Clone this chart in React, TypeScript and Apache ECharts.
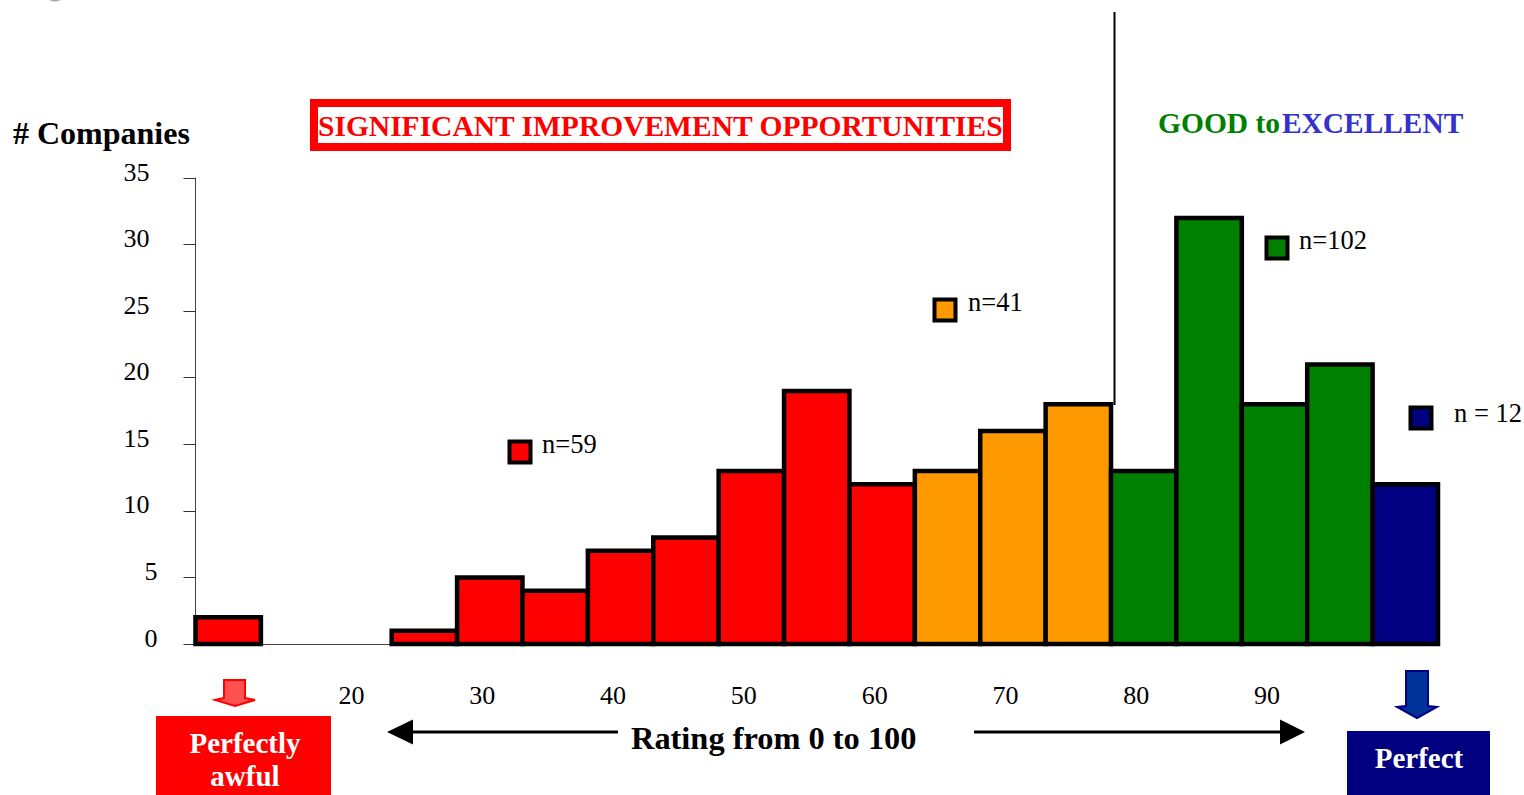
import React, { useEffect, useRef } from "react";
import * as echarts from "echarts";

const binLabels = ["10","15","20","25","30","35","40","45","50","55","60","65","70","75","80","85","90","95","100"];
const companyCounts = [2,0,0,1,5,4,7,8,13,19,12,13,16,18,13,32,18,21,12];
const RED = "#ff0000", ORANGE = "#ff9900", GREEN = "#008000", NAVY = "#000080";
const binColors = [RED,RED,RED,RED,RED,RED,RED,RED,RED,RED,RED,ORANGE,ORANGE,ORANGE,GREEN,GREEN,GREEN,GREEN,NAVY];
const yTicks = { min: 0, max: 35, interval: 5 };
const shownLabels = ["20","30","40","50","60","70","80","90"];
const legendNotes = [
  { label: "n=59", color: RED, x: 508, y: 440, tx: 542, ty: 444 },
  { label: "n=41", color: ORANGE, x: 933, y: 298, tx: 968, ty: 301.5 },
  { label: "n=102", color: GREEN, x: 1265, y: 236, tx: 1299, ty: 240 },
  { label: "n = 12", color: NAVY, x: 1409, y: 406, tx: 1454, ty: 413 },
];

const SERIF = '"Liberation Serif", "Times New Roman", serif';
const txt = (text: string, x: number, y: number, fill: string, size: number, bold = true, align = "left") => ({
  type: "text",
  z: 20,
  style: { text, x, y, fill, font: `${bold ? "bold " : ""}${size}px ${SERIF}`, textAlign: align, textVerticalAlign: "middle" },
});

export default function App() {
  const ref = useRef<HTMLDivElement>(null);
  useEffect(() => {
    document.body.style.margin = "0";
    const chart = echarts.init(ref.current!, null, { renderer: "svg" });
    chart.setOption({
      animation: false,
      backgroundColor: "#ffffff",
      grid: { left: 195.5, right: 86, top: 178, bottom: 151 },
      xAxis: {
        type: "category",
        data: binLabels,
        axisLine: { lineStyle: { color: "#444", width: 1 } },
        axisTick: { interval: 0, length: 10, lineStyle: { color: "#333", width: 1 } },
        axisLabel: {
          interval: (_: number, v: string) => shownLabels.includes(v),
          margin: 38,
          padding: [0, 15, 0, 0],
          color: "#000",
          fontFamily: SERIF,
          fontSize: 26,
        },
      },
      yAxis: {
        type: "value",
        ...yTicks,
        splitLine: { show: false },
        axisLine: { show: true, lineStyle: { color: "#444", width: 1 } },
        axisTick: { show: true, length: 12, lineStyle: { color: "#333", width: 1 } },
        axisLabel: {
          margin: 38,
          color: "#000",
          fontFamily: SERIF,
          fontSize: 26,
          formatter: (v: number) => (v < 10 ? `{a|${v}}` : `{b|${v}}`),
          rich: {
            a: { fontFamily: SERIF, fontSize: 26, color: "#000", padding: [0, 0, 12, 0] },
            b: { fontFamily: SERIF, fontSize: 26, color: "#000", padding: [0, 8, 12, 0] },
          },
        },
      },
      series: [
        {
          type: "custom",
          clip: false,
          z: 3,
          encode: { x: 0, y: 1 },
          data: binLabels.map((label, i) => [label, companyCounts[i]]),
          renderItem: (params: any, api: any) => {
            const v = api.value(1);
            if (!v) return null;
            const i = params.dataIndex;
            const [cx, top] = api.coord([i, v]);
            const [, base] = api.coord([i, 0]);
            const w = api.size([1, 0])[0];
            return {
              type: "rect",
              shape: { x: cx - w / 2, y: top, width: w, height: base - top },
              style: { fill: binColors[i], stroke: "#000", lineWidth: 4.5 },
            };
          },
        },
      ],
      graphic: [
        { type: "ellipse", z: 5, shape: { cx: 55, cy: -1, rx: 6, ry: 2.5 }, style: { fill: "#aaaaaa" } },
        { type: "line", z: 5, shape: { x1: 1114.5, y1: 12, x2: 1114.5, y2: 405 }, style: { stroke: "#000", lineWidth: 2 } },
        txt("# Companies", 13, 133, "#000", 32),
        { type: "rect", z: 10, shape: { x: 314, y: 103, width: 693, height: 44 }, style: { fill: "#fff", stroke: RED, lineWidth: 8 } },
        txt("SIGNIFICANT IMPROVEMENT OPPORTUNITIES", 318, 126, RED, 29.5),
        txt("GOOD to", 1158, 122.5, GREEN, 29.5),
        txt("EXCELLENT", 1282, 122.5, "#3333cc", 29.4),
        ...legendNotes.flatMap((n) => [
          { type: "rect", z: 10, shape: { x: n.x + 1.5, y: n.y + 1.5, width: 21, height: 21 }, style: { fill: n.color, stroke: "#000", lineWidth: 4 } },
          txt(n.label, n.tx, n.ty, "#000", 26.5, false),
        ]),
        { type: "polygon", z: 10, shape: { points: [[224,680],[245,680],[245,698],[255,700],[235,706],[215,700],[224,698]] }, style: { fill: "#ff5050", stroke: RED, lineWidth: 2 } },
        { type: "rect", z: 10, shape: { x: 156, y: 716, width: 175, height: 79 }, style: { fill: RED } },
        txt("Perfectly", 245, 743, "#fff", 29, true, "center"),
        txt("awful", 245, 776, "#fff", 29, true, "center"),
        { type: "polygon", z: 10, shape: { points: [[1406,671],[1428,671],[1428,706],[1437,707],[1417,718],[1397,707],[1406,706]] }, style: { fill: "#003399", stroke: NAVY, lineWidth: 2 } },
        { type: "rect", z: 10, shape: { x: 1347, y: 731, width: 143, height: 64 }, style: { fill: NAVY } },
        txt("Perfect", 1419, 758, "#fff", 29, true, "center"),
        txt("Rating from 0 to 100", 631, 738, "#000", 32.4),
        { type: "line", z: 10, shape: { x1: 410, y1: 732, x2: 618, y2: 732 }, style: { stroke: "#000", lineWidth: 3 } },
        { type: "polygon", z: 10, shape: { points: [[387,732],[413,719.5],[413,744.5]] }, style: { fill: "#000" } },
        { type: "line", z: 10, shape: { x1: 974, y1: 732, x2: 1282, y2: 732 }, style: { stroke: "#000", lineWidth: 3 } },
        { type: "polygon", z: 10, shape: { points: [[1305,732],[1280,719.5],[1280,744.5]] }, style: { fill: "#000" } },
      ],
    });
    return () => chart.dispose();
  }, []);
  return <div ref={ref} style={{ position: "absolute", left: 0, top: 0, width: 1524, height: 795 }} />;
}
